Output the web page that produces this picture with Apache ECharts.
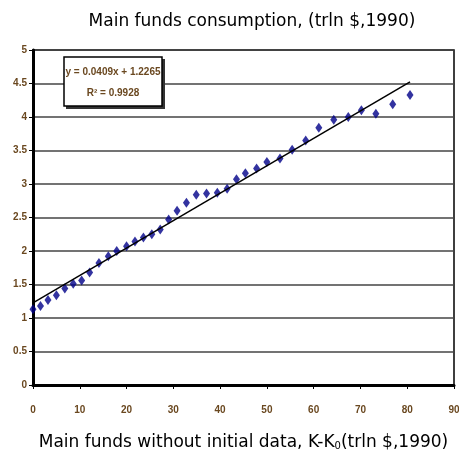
<!DOCTYPE html>
<html><head><meta charset="utf-8">
<script src="https://cdn.jsdelivr.net/npm/echarts@6/dist/echarts.min.js"></script>
<style>html,body{margin:0;padding:0;background:#fff}#c{width:459px;height:454px}</style>
</head><body><div id="c"></div>
<script>
const xValues = [0,1.6,3.2,5,6.8,8.6,10.4,12.1,14.1,16.1,17.9,20,21.8,23.6,25.4,27.2,29,30.8,32.8,34.9,37.1,39.4,41.5,43.5,45.4,47.8,50,52.8,55.4,58.3,61.1,64.3,67.4,70.2,73.3,76.9,80.6];
const yValues = [1.13,1.18,1.27,1.34,1.44,1.51,1.56,1.68,1.82,1.92,2.0,2.07,2.14,2.2,2.25,2.32,2.47,2.6,2.72,2.84,2.86,2.87,2.93,3.07,3.16,3.23,3.33,3.38,3.51,3.65,3.84,3.96,4.0,4.1,4.05,4.19,4.33];
const trendX = [0, 80.6];
const trendY = [1.2265, 4.523];
const equationLines = ['y = 0.0409x + 1.2265', 'R² = 0.9928'];
const titleText = 'Main funds consumption, (trln $,1990)';

const labelColor = '#6a4820';
const labelFont = {color: labelColor, fontFamily: 'Liberation Sans Narrow, Arial Narrow, sans-serif', fontWeight: 'bold', fontSize: 10};
const textFont = 'DejaVu Sans, sans-serif';

const chart = echarts.init(document.getElementById('c'));
chart.setOption({
  animation: false,
  title: {text: titleText, left: 247, top: 8, textAlign: 'center',
    textStyle: {fontFamily: textFont, fontWeight: 'normal', fontSize: 17, color: '#000'}},
  grid: {left: 33, right: 5, top: 50, bottom: 69, outerBoundsMode: 'none', containLabel: false,
    show: true, borderColor: '#000', borderWidth: 1.5, backgroundColor: '#fff'},
  xAxis: {type: 'value', min: 0, max: 90, interval: 10,
    name: 'Main funds without initial data, K-K{s|0}(trln $,1990)', nameLocation: 'middle', nameGap: 49,
    nameTextStyle: {fontFamily: textFont, fontSize: 17, color: '#000',
      rich: {s: {fontSize: 10, verticalAlign: 'bottom', fontFamily: textFont}}},
    axisLine: {show: true, onZero: false, lineStyle: {color: '#000', width: 3}},
    axisTick: {show: true, length: 4, lineStyle: {color: '#000', width: 1}},
    axisLabel: Object.assign({margin: 20}, labelFont),
    splitLine: {show: false}},
  yAxis: {type: 'value', min: 0, max: 5, interval: 0.5,
    axisLine: {show: true, onZero: false, lineStyle: {color: '#000', width: 3}},
    axisTick: {show: true, length: 4, lineStyle: {color: '#000', width: 1}},
    axisLabel: Object.assign({margin: 6}, labelFont),
    splitLine: {show: true, lineStyle: {color: '#444', width: 1.5}}},
  series: [
    {type: 'scatter', data: xValues.map((x,i)=>[x,yValues[i]]), symbol: 'diamond', symbolSize: [7,10],
      itemStyle: {color: '#000088'}, z: 3},
    {type: 'line', data: trendX.map((x,i)=>[x,trendY[i]]), symbol: 'none', lineStyle: {color: '#000', width: 1.5}, z: 4}
  ],
  graphic: [
    {type: 'rect', shape: {x: 66, y: 59, width: 99, height: 50}, style: {fill: '#333'}, z: 10},
    {type: 'rect', shape: {x: 64, y: 57, width: 98, height: 49}, style: {fill: '#fff', stroke: '#000', lineWidth: 1.5}, z: 11},
    {type: 'text', x: 113, y: 72, style: {text: equationLines[0], align: 'center', verticalAlign: 'middle', fill: labelColor,
      font: 'bold 10px "Liberation Sans Narrow", sans-serif'}, z: 12},
    {type: 'text', x: 113, y: 93, style: {text: equationLines[1], align: 'center', verticalAlign: 'middle', fill: labelColor,
      font: 'bold 10px "Liberation Sans Narrow", sans-serif'}, z: 12}
  ]
});
</script></body></html>
